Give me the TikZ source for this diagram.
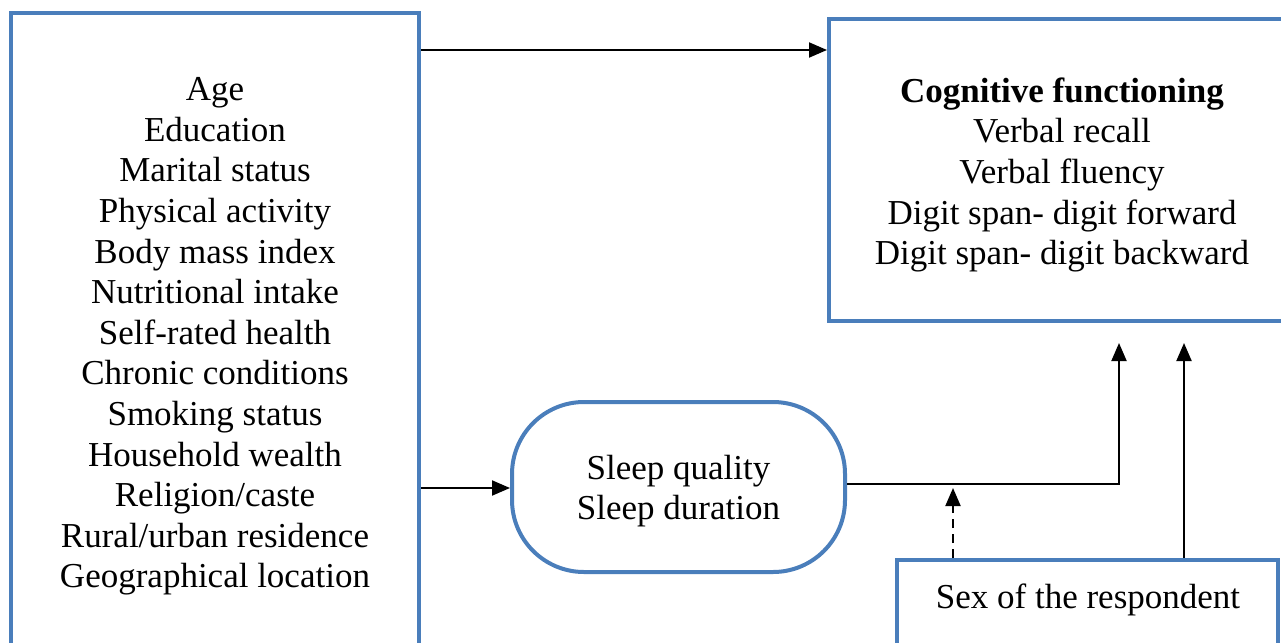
\documentclass[tikz,border=0pt]{standalone}
\usepackage{fontspec}
\setmainfont{Liberation Serif}
\usetikzlibrary{arrows.meta}
\definecolor{boxblue}{RGB}{74,126,187}
\tikzset{
  box/.style={draw=boxblue, line width=4pt, fill=white, inner sep=0pt},
  txt/.style={align=center, font=\fontsize{35}{40.6}\selectfont, inner sep=0pt},
  conn/.style={line width=2pt, -{Triangle[length=18pt,width=15pt]}},
  dconn/.style={conn, dash pattern=on 9pt off 6pt}
}
\begin{document}
\begin{tikzpicture}[x=1pt,y=-1pt]
\useasboundingbox (0,0) rectangle (1281,642);
\clip (0,0) rectangle (1281,642);
\fill[white] (0,0) rectangle (1281,642);
% left box
\node[box, minimum width=408pt, minimum height=639pt] (left) at (215,332.5) {};
\node[txt] (lefttext) at (215,336.5) {Age\\Education\\Marital status\\Physical activity\\Body mass index\\Nutritional intake\\Self-rated health\\Chronic conditions\\Smoking status\\Household wealth\\Religion/caste\\Rural/urban residence\\Geographical location};
% cognitive box
\node[box, minimum width=471pt, minimum height=302pt] (cog) at (1064.5,170) {};
\node[txt] (cogtext) at (1062,175) {\textbf{Cognitive functioning}\\Verbal recall\\Verbal fluency\\Digit span- digit forward\\Digit span- digit backward};
% sleep
\node[box, rounded corners=72pt, minimum width=333pt, minimum height=170pt] (sleep) at (678.5,487) {};
\node[txt] (sleeptext) at (678.5,491) {Sleep quality\\Sleep duration};
% sex
\node[box, minimum width=381pt, minimum height=100pt] (sex) at (1087.5,610) {};
\node[txt] (sextext) at (1088,600) {Sex of the respondent};
% connectors
\draw[conn] (left.east |- 0,50) -- (cog.west |- 0,50);
\draw[conn] (left.east |- 0,488) -- (sleep.west |- 0,488);
\coordinate (turn) at (1119,483.5);
\coordinate (tipA) at (1119,343);
\coordinate (tipB) at (1184,343);
\coordinate (tipD) at (953,488);
\draw[conn] (sleep.east |- turn) -- (turn) -- (tipA);
\draw[conn] (sex.north -| tipB) -- (tipB);
\draw[dconn] (sex.north -| tipD) -- (tipD);
\end{tikzpicture}
\end{document}
